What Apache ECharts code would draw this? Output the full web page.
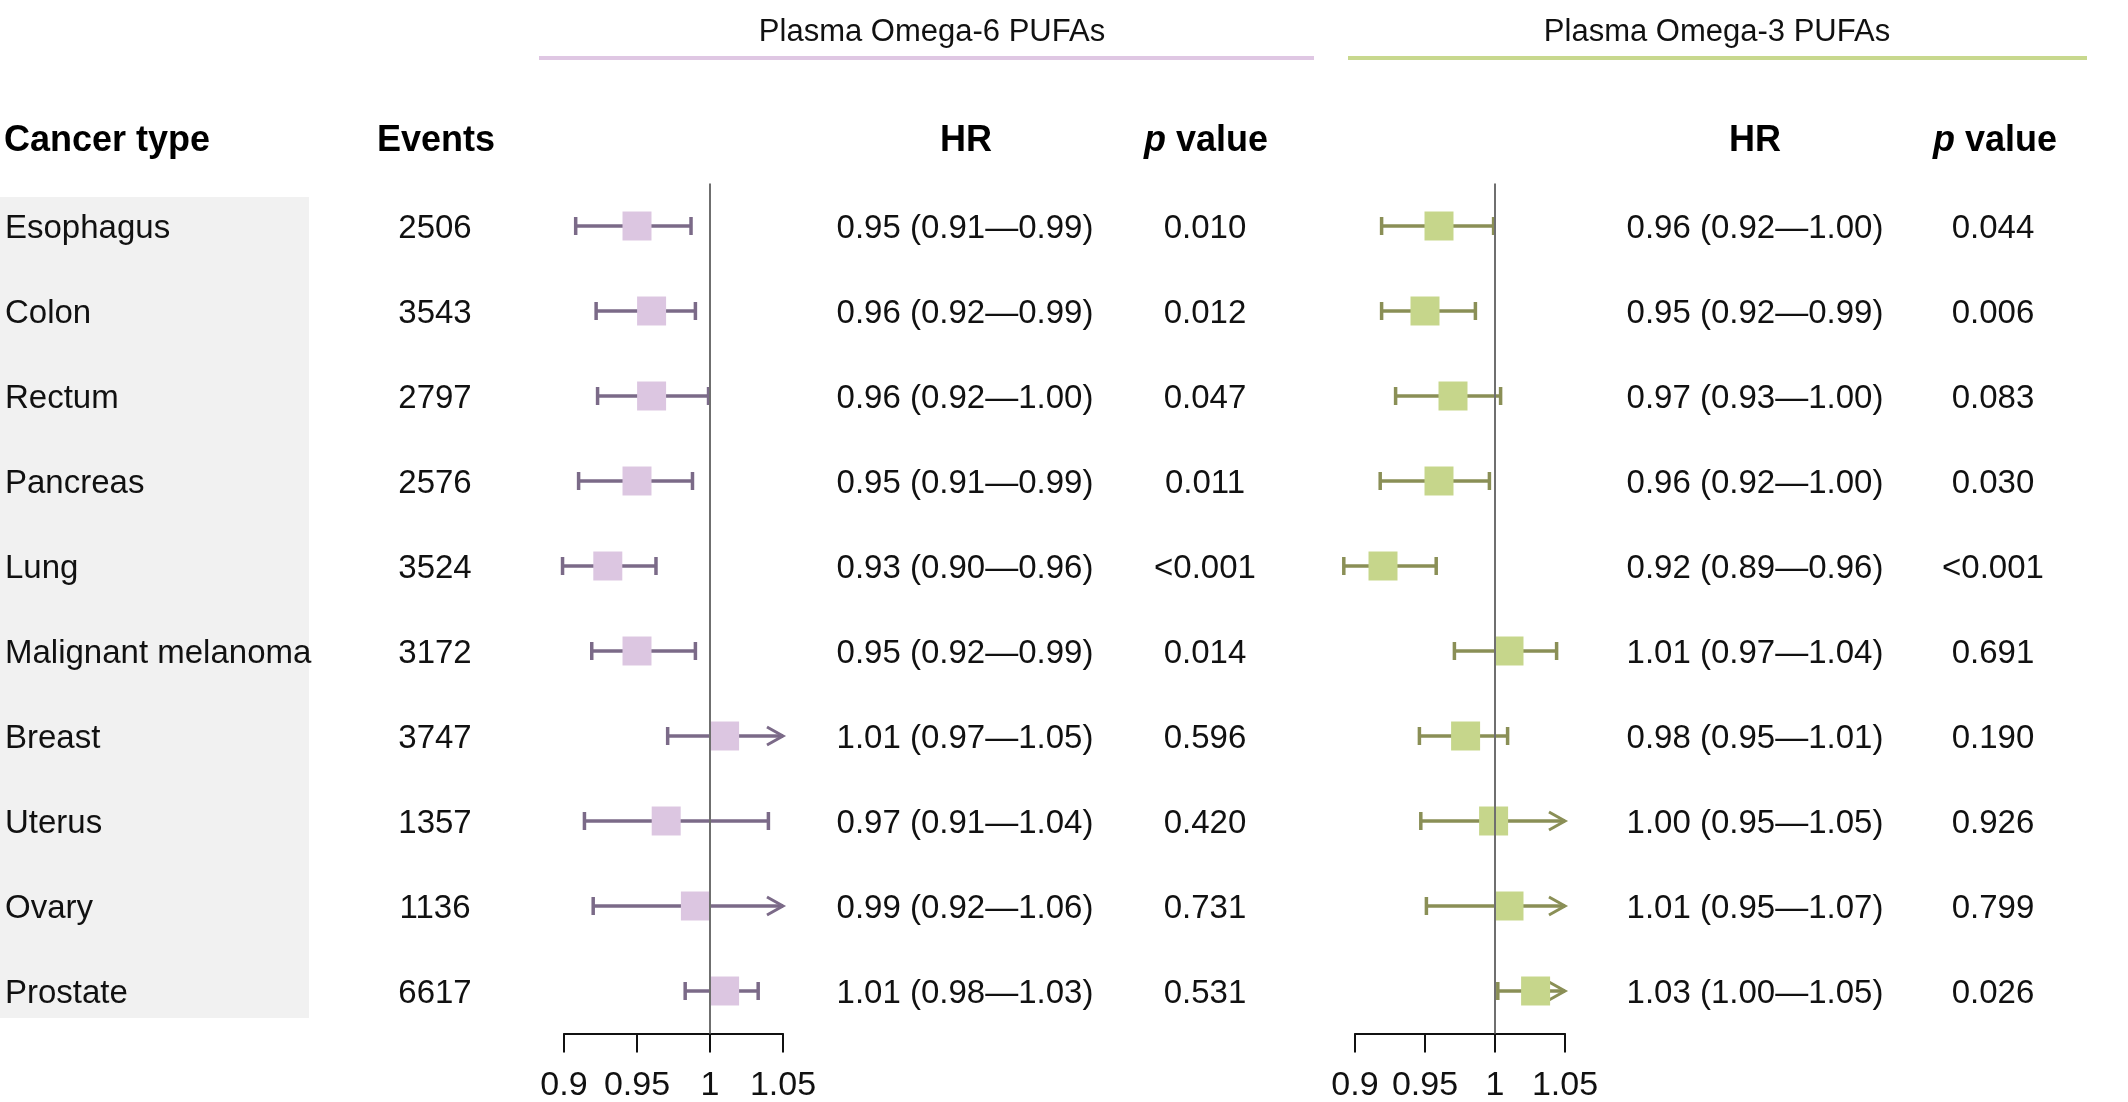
<!DOCTYPE html>
<html>
<head>
<meta charset="UTF-8">
<style>
html, body { margin: 0; padding: 0; background: #fff; }
#chart { width: 2128px; height: 1102px; }
</style>
</head>
<body>
<div id="chart"></div>
<script src="https://cdn.jsdelivr.net/npm/echarts@6/dist/echarts.min.js"></script>
<script>
// rows, top to bottom
var cancerTypes = ['Esophagus', 'Colon', 'Rectum', 'Pancreas', 'Lung', 'Malignant melanoma', 'Breast', 'Uterus', 'Ovary', 'Prostate'];
var events = [2506, 3543, 2797, 2576, 3524, 3172, 3747, 1357, 1136, 6617];

// omega-6: positions
var hrN6 = [0.950, 0.960, 0.960, 0.950, 0.930, 0.950, 1.010, 0.970, 0.990, 1.010];
var loN6 = [0.908, 0.922, 0.923, 0.910, 0.899, 0.919, 0.971, 0.914, 0.920, 0.983];
var hiN6 = [0.987, 0.990, 0.999, 0.988, 0.963, 0.990, 1.052, 1.040, 1.060, 1.033];
var hrTextN6 = ['0.95 (0.91\u20140.99)', '0.96 (0.92\u20140.99)', '0.96 (0.92\u20141.00)', '0.95 (0.91\u20140.99)', '0.93 (0.90\u20140.96)',
                '0.95 (0.92\u20140.99)', '1.01 (0.97\u20141.05)', '0.97 (0.91\u20141.04)', '0.99 (0.92\u20141.06)', '1.01 (0.98\u20141.03)'];
var pN6 = ['0.010', '0.012', '0.047', '0.011', '<0.001', '0.014', '0.596', '0.420', '0.731', '0.531'];

// omega-3
var hrN3 = [0.960, 0.950, 0.970, 0.960, 0.920, 1.010, 0.979, 0.999, 1.010, 1.029];
var loN3 = [0.919, 0.919, 0.929, 0.918, 0.892, 0.971, 0.946, 0.947, 0.951, 1.002];
var hiN3 = [0.999, 0.986, 1.004, 0.996, 0.958, 1.044, 1.009, 1.052, 1.070, 1.052];
var hrTextN3 = ['0.96 (0.92\u20141.00)', '0.95 (0.92\u20140.99)', '0.97 (0.93\u20141.00)', '0.96 (0.92\u20141.00)', '0.92 (0.89\u20140.96)',
                '1.01 (0.97\u20141.04)', '0.98 (0.95\u20141.01)', '1.00 (0.95\u20141.05)', '1.01 (0.95\u20141.07)', '1.03 (1.00\u20141.05)'];
var pN3 = ['0.044', '0.006', '0.083', '0.030', '<0.001', '0.691', '0.190', '0.926', '0.799', '0.026'];

var axisMin = 0.9, axisMax = 1.05, axisStep = 0.05;

var FONT = '"Liberation Sans", Arial, Helvetica, sans-serif';
var chart = echarts.init(document.getElementById('chart'));

function forestData(hr, lo, hi) {
	return hr.map(function (v, i) { return [lo[i], hi[i], v, i]; });
}

// whisker + caps (or arrow when cut at axis max) + square
function forestItem(lineColor, boxColor) {
	return function (params, api) {
		var lo = api.value(0), hi = api.value(1), hr = api.value(2), row = api.value(3);
		var arrow = hi > axisMax + 1e-9;
		var pc = api.coord([hr, row]);
		var y = pc[1];
		var xl = api.coord([lo, row])[0];
		var xh = api.coord([arrow ? axisMax : hi, row])[0];
		var half = 14.5, cap = 9, lw = 3.5;
		var st = { stroke: lineColor, lineWidth: lw, fill: null };
		var kids = [
			{ type: 'line', shape: { x1: xl, y1: y, x2: xh, y2: y }, style: st },
			{ type: 'line', shape: { x1: xl, y1: y - cap, x2: xl, y2: y + cap }, style: st }
		];
		if (arrow) {
			kids.push({ type: 'polyline', shape: { points: [[xh - 16, y - 9], [xh, y], [xh - 16, y + 9]] },
				style: { stroke: lineColor, lineWidth: 3, fill: null } });
		} else {
			kids.push({ type: 'line', shape: { x1: xh, y1: y - cap, x2: xh, y2: y + cap }, style: st });
		}
		kids.push({ type: 'rect', shape: { x: pc[0] - half, y: y - half, width: half * 2, height: half * 2 },
			style: { fill: boxColor } });
		return { type: 'group', children: kids };
	};
}

function textColumn(texts, x, align) {
	return {
		type: 'custom', xAxisIndex: 2, yAxisIndex: 2, silent: true, z: 5,
		data: texts.map(function (t, i) { return [0, i]; }),
		encode: { x: 0, y: 1 },
		renderItem: function (params, api) {
			var y = api.coord([0, api.value(1)])[1] + 3;
			return { type: 'text', x: x, y: y,
				style: { text: String(texts[params.dataIndex]), textAlign: align, align: align,
					textVerticalAlign: 'middle', verticalAlign: 'middle', font: '33px ' + FONT, fill: '#111' } };
		}
	};
}

function refLine(xi) {
	return {
		type: 'line', xAxisIndex: xi, yAxisIndex: xi, data: [], z: 1, silent: true,
		markLine: { silent: true, symbol: ['none', 'none'], label: { show: false },
			lineStyle: { color: '#6f6f6f', width: 2, type: 'solid' }, data: [{ xAxis: 1 }] }
	};
}

function forestX(gi) {
	return {
		gridIndex: gi, type: 'value', min: axisMin, max: axisMax, interval: axisStep,
		splitLine: { show: false },
		axisLine: { show: true, onZero: false, lineStyle: { color: '#111', width: 2 } },
		axisTick: { show: true, length: 19, lineStyle: { color: '#111', width: 2 } },
		axisLabel: { color: '#111', fontSize: 34, fontFamily: FONT, margin: 35, showMinLabel: true, showMaxLabel: true,
			formatter: function (v) { return String(+v.toFixed(2)); } }
	};
}

function catY(gi) {
	return { gridIndex: gi, type: 'category', data: cancerTypes, inverse: true, show: false };
}

var gridTop = 183.5, gridH = 850;

var headerStyle = { font: 'bold 36px ' + FONT, fill: '#000', textVerticalAlign: 'middle', verticalAlign: 'middle' };
function header(text, x, align) {
	return { type: 'text', x: x, y: 141, style: Object.assign({ text: text, textAlign: align, align: align }, headerStyle) };
}
function pHeader(x) {
	return { type: 'text', x: x, y: 141, style: {
		text: '{p|p} value', textAlign: 'center', align: 'center', textVerticalAlign: 'middle', verticalAlign: 'middle',
		font: 'bold 36px ' + FONT, fill: '#000',
		rich: { p: { fontStyle: 'italic', fontWeight: 'bold', fontSize: 36, fontFamily: FONT, fill: '#000', color: '#000' } } } };
}
function title(text, x) {
	return { type: 'text', x: x, y: 32, style: { text: text, textAlign: 'center', align: 'center',
		textVerticalAlign: 'middle', verticalAlign: 'middle', font: '31px ' + FONT, fill: '#111' } };
}

var option = {
	animation: false,
	backgroundColor: '#fff',
	grid: [
		{ left: 564, top: gridTop, width: 219, height: gridH, containLabel: false, outerBoundsMode: 'none' },
		{ left: 1355, top: gridTop, width: 210, height: gridH, containLabel: false, outerBoundsMode: 'none' },
		{ left: 0, top: gridTop, width: 2128, height: gridH, containLabel: false, outerBoundsMode: 'none' }
	],
	xAxis: [forestX(0), forestX(1), { gridIndex: 2, type: 'value', min: 0, max: 1, show: false }],
	yAxis: [catY(0), catY(1), catY(2)],
	graphic: [
		{ type: 'rect', z: -10, shape: { x: 0, y: 197, width: 309, height: 821 }, style: { fill: '#f1f1f1' } },
		title('Plasma Omega-6 PUFAs', 932),
		title('Plasma Omega-3 PUFAs', 1717),
		{ type: 'line', shape: { x1: 539, y1: 58, x2: 1314, y2: 58 }, style: { stroke: '#dfc7e3', lineWidth: 4 } },
		{ type: 'line', shape: { x1: 1348, y1: 58, x2: 2087, y2: 58 }, style: { stroke: '#c8d88e', lineWidth: 4 } },
		header('Cancer type', 4, 'left'),
		header('Events', 436, 'center'),
		header('HR', 966, 'center'),
		pHeader(1206),
		header('HR', 1755, 'center'),
		pHeader(1995)
	],
	series: [
		refLine(0),
		refLine(1),
		{ type: 'custom', xAxisIndex: 0, yAxisIndex: 0, z: 3, clip: false, silent: true,
		  data: forestData(hrN6, loN6, hiN6), encode: { x: [0, 1, 2], y: 3 },
		  renderItem: forestItem('#7b6a88', '#dcc6e1') },
		{ type: 'custom', xAxisIndex: 1, yAxisIndex: 1, z: 3, clip: false, silent: true,
		  data: forestData(hrN3, loN3, hiN3), encode: { x: [0, 1, 2], y: 3 },
		  renderItem: forestItem('#8a8f56', '#c6d68b') },
		textColumn(cancerTypes, 5, 'left'),
		textColumn(events, 435, 'center'),
		textColumn(hrTextN6, 965, 'center'),
		textColumn(pN6, 1205, 'center'),
		textColumn(hrTextN3, 1755, 'center'),
		textColumn(pN3, 1993, 'center')
	]
};

chart.setOption(option);
</script>
</body>
</html>
